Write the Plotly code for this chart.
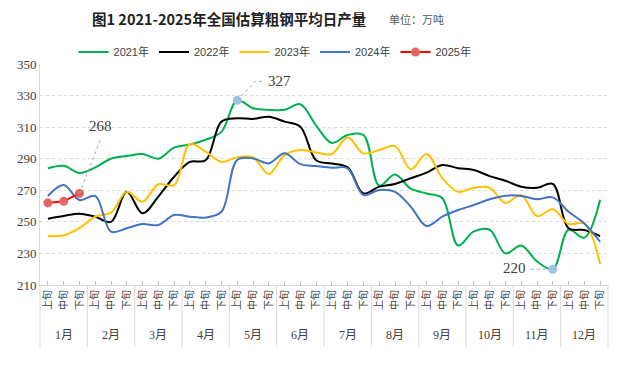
import plotly.graph_objects as go

months = ["1月", "2月", "3月", "4月", "5月", "6月", "7月", "8月", "9月", "10月", "11月", "12月"]
dekads = ["上旬", "中旬", "下旬"]

y2021 = [284, 285.5, 281, 284.5, 290, 291.7, 293, 290, 297, 299, 302, 307,
         327, 322, 321, 321, 324.5, 311, 300, 305, 305, 273, 280, 271,
         268, 265, 235, 244, 245, 230, 235, 225, 220, 245, 240, 264]
y2022 = [252, 253.7, 255.2, 253.3, 250, 269, 255.4, 266, 278.6, 288, 289, 313.5,
         315.6, 315.2, 316.6, 313.5, 310.3, 289, 287, 284.5, 268, 272.3, 274, 277.6,
         281.2, 286, 284, 282.8, 279, 276, 272.3, 271.6, 274, 246, 244.8, 241]
y2023 = [241, 241.5, 246, 253.3, 255.8, 269, 262.8, 273.8, 273.3, 299.3, 294.5, 288,
         290.9, 290.9, 280.3, 292.3, 295.5, 294, 293, 303.5, 293.4, 295.5, 298, 283.3,
         293, 277.6, 269, 271.6, 271.6, 262, 267, 253.7, 258, 248.7, 249, 223.3]
y2024 = [266.4, 273.3, 263.8, 266.4, 243.8, 246, 248.6, 248, 254.3, 253.3, 252.8, 256.4,
         289.2, 290.2, 287, 293.4, 286.6, 285.4, 284.3, 283.9, 267, 270.2, 269, 259.6,
         247.4, 253.3, 257.5, 260.7, 264.3, 266.6, 266.4, 264.3, 265.5, 256.4, 249, 237.4]
y2025 = [262, 263, 268]

series = [
    ("2021年", y2021, "#00B050"),
    ("2022年", y2022, "#000000"),
    ("2023年", y2023, "#FFC000"),
    ("2024年", y2024, "#4472C4"),
]

n = len(months) * len(dekads)
xs = list(range(n))

fig = go.Figure()
for name, ys, col in series:
    fig.add_trace(go.Scatter(
        x=xs[:len(ys)], y=ys, name=name, mode="lines",
        line=dict(color=col, width=2, shape="spline", smoothing=1.0),
        hoverinfo="skip"))
fig.add_trace(go.Scatter(
    x=xs[:len(y2025)], y=y2025, name="2025年", mode="lines+markers",
    line=dict(color="#FF0000", width=2),
    marker=dict(color="#E06666", size=9, line=dict(width=0)),
    hoverinfo="skip"))

# highlighted extreme points of 2021
imax = y2021.index(max(y2021))
imin = y2021.index(min(y2021))
fig.add_trace(go.Scatter(
    x=[xs[imax], xs[imin]], y=[y2021[imax], y2021[imin]], mode="markers",
    marker=dict(color="#9DC3E6", size=9), showlegend=False, hoverinfo="skip"))

lbl_font = dict(family="Liberation Serif, DejaVu Serif", size=15, color="#404040")
dot = dict(color="#A6A6A6", width=1, dash="dot")

# 268 label
i25 = len(y2025) - 1
fig.add_shape(type="line", xref="x", yref="y", xsizemode="pixel", ysizemode="pixel",
              xanchor=xs[i25], yanchor=y2025[i25], x0=0, x1=21, y0=0, y1=54, line=dot)
fig.add_annotation(x=xs[i25], y=y2025[i25], text=str(y2025[i25]), showarrow=False,
                   xshift=21, yshift=67, font=lbl_font)
# 327 label
fig.add_shape(type="path", xref="x", yref="y", xsizemode="pixel", ysizemode="pixel",
              xanchor=xs[imax], yanchor=y2021[imax],
              path="M0,0 L18,19 L26,19", line=dot)
fig.add_annotation(x=xs[imax], y=y2021[imax], text=str(round(y2021[imax])), showarrow=False,
                   xshift=42, yshift=19, font=lbl_font)
# 220 label
fig.add_shape(type="line", xref="x", yref="y", xsizemode="pixel", ysizemode="pixel",
              xanchor=xs[imin], yanchor=y2021[imin], x0=-22, x1=-5, y0=0, y1=0, line=dot)
fig.add_annotation(x=xs[imin], y=y2021[imin], text=str(round(y2021[imin])), showarrow=False,
                   xshift=-38, yshift=1, font=lbl_font)

# month group labels and dividers
for m, mname in enumerate(months):
    fig.add_annotation(x=xs[m * 3 + 1], y=0, xref="x", yref="paper", text=mname,
                       showarrow=False, yanchor="middle", yshift=-50,
                       font=dict(family="Liberation Serif, Noto Sans CJK SC", size=12, color="#404040"))
for m in range(len(months) + 1):
    fx = m * 3 / n
    fig.add_shape(type="line", xref="paper", yref="paper", x0=fx, x1=fx, y0=0, y1=-0.28,
                  line=dict(color="#D9D9D9", width=1), layer="above")

# title
fig.add_annotation(x=0.088, y=1.204, xref="paper", yref="paper", xanchor="left",
                   yanchor="middle", showarrow=False,
                   text="<b>图1 2021-2025年全国估算粗钢平均日产量</b>",
                   font=dict(family="Noto Sans CJK SC", size=14.5, color="#222222"))
fig.add_annotation(x=0.611, y=1.202, xref="paper", yref="paper", xanchor="left",
                   yanchor="middle", showarrow=False,
                   text="单位：万吨",
                   font=dict(family="Noto Sans CJK SC", size=11, color="#595959"))

fig.update_layout(
    width=610, height=360,
    margin=dict(l=32, r=10, t=56, b=83),
    paper_bgcolor="white", plot_bgcolor="white",
    showlegend=True,
    legend=dict(orientation="h", x=0.059, xanchor="left", y=1.054, yanchor="middle",
                font=dict(family="Liberation Sans, Noto Sans CJK SC", size=11, color="#404040"),
                bgcolor="rgba(0,0,0,0)", tracegroupgap=0),
    xaxis=dict(range=[-0.5, n - 0.5], tickmode="array", tickvals=xs,
               ticktext=dekads * len(months), tickangle=-90,
               tickfont=dict(family="Noto Sans CJK SC", size=10, color="#404040"),
               showgrid=False, zeroline=False, showline=True, linecolor="#D9D9D9",
               ticks="inside", ticklen=4, tickcolor="#BFBFBF", fixedrange=True),
    yaxis=dict(range=[210, 350], dtick=20, tick0=210,
               tickfont=dict(family="Liberation Serif, DejaVu Serif", size=13, color="#404040"),
               showgrid=True, gridcolor="#D9D9D9", griddash="dot", gridwidth=1,
               zeroline=False, showline=True, linecolor="#D9D9D9", ticks="", fixedrange=True),
)

fig.write_html("out.html")
